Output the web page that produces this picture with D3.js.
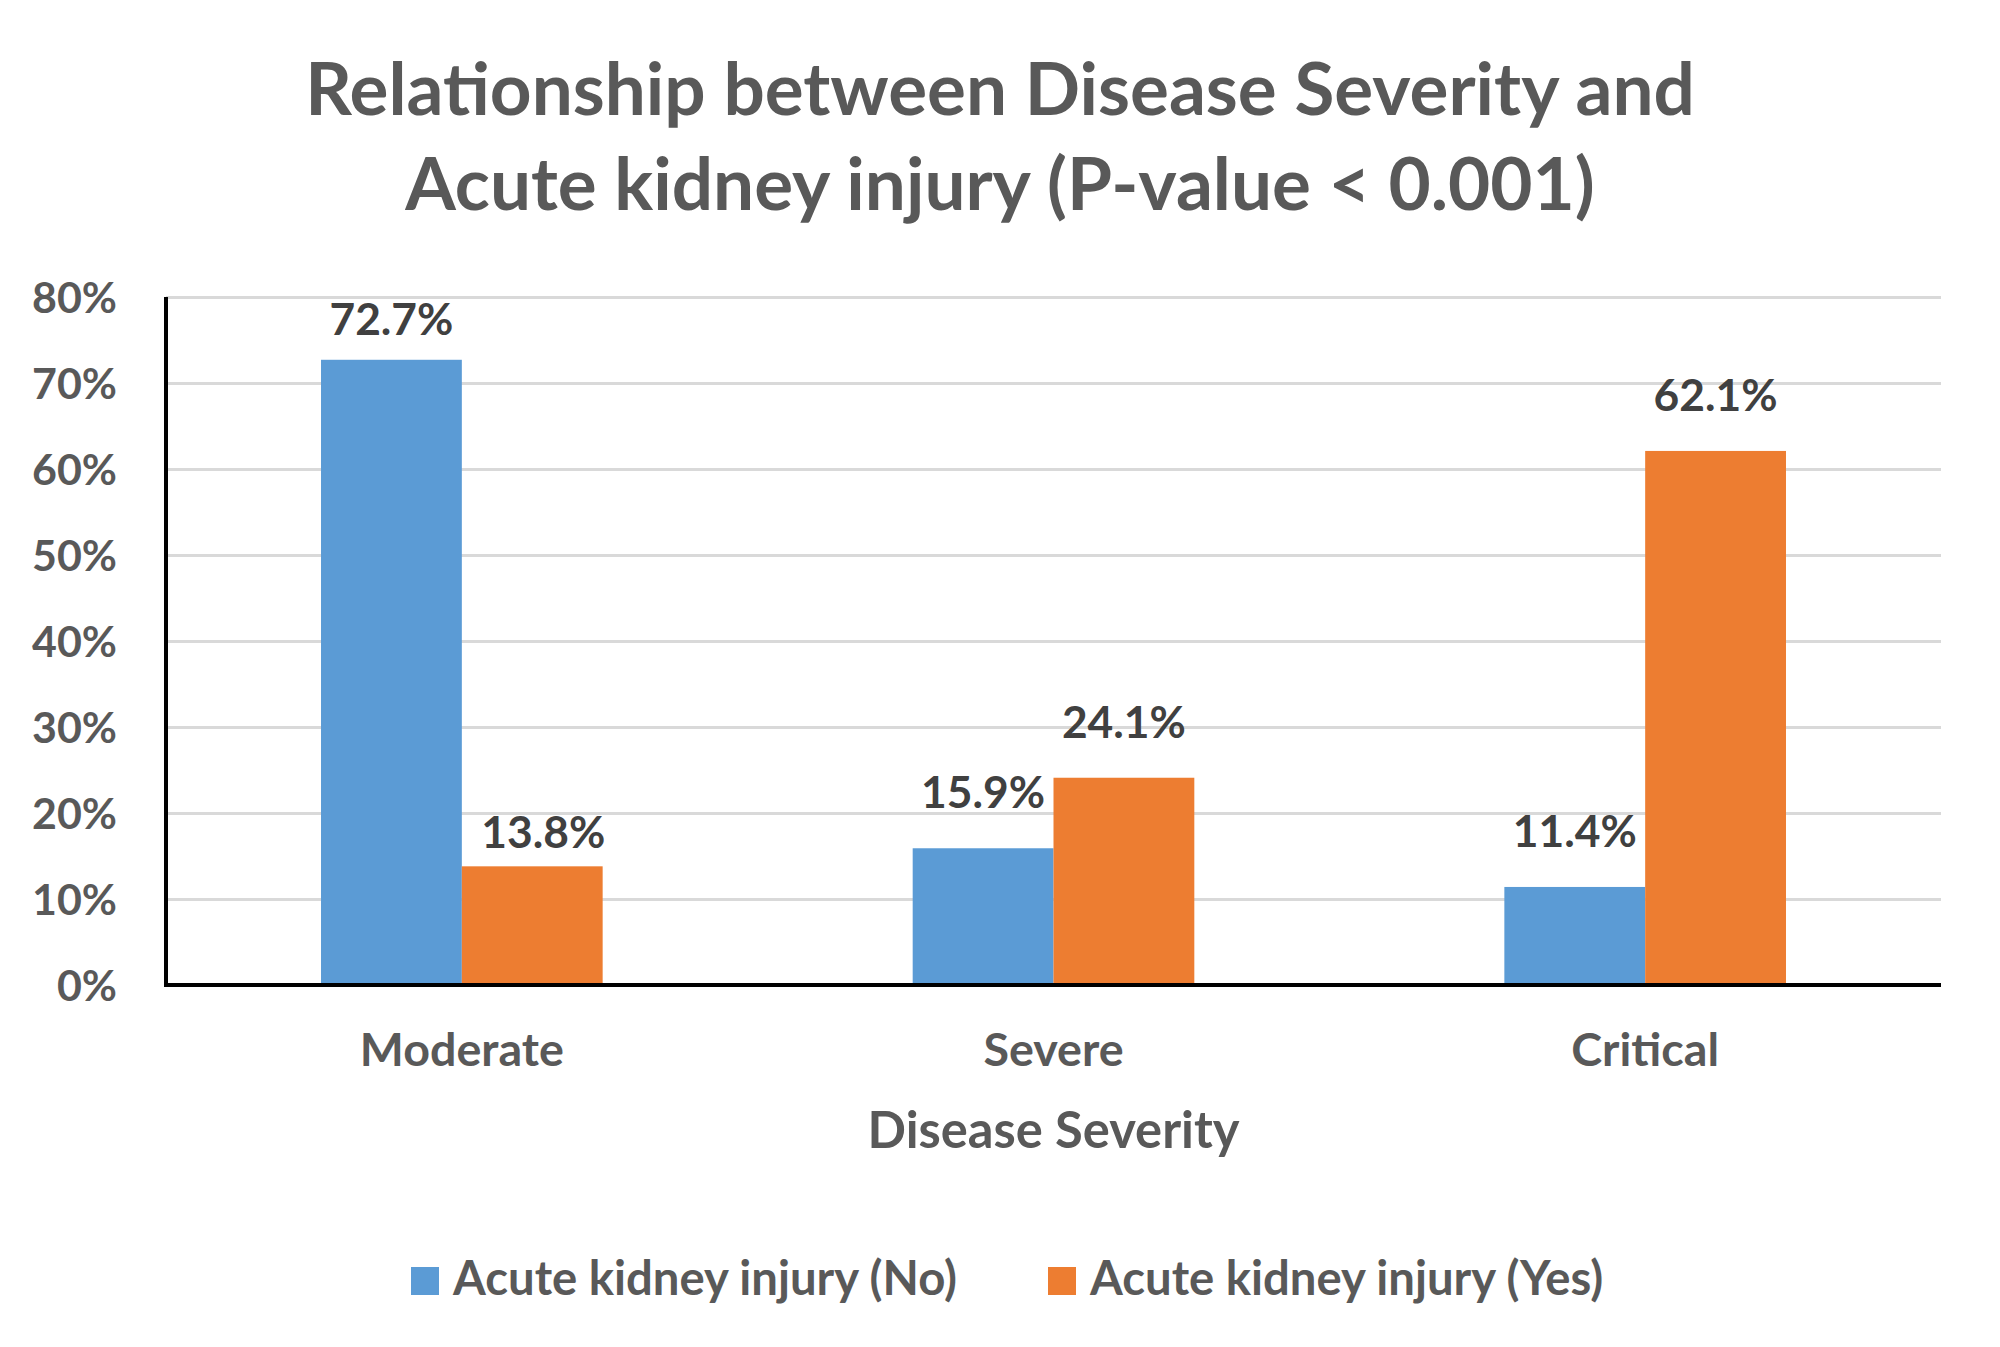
<!DOCTYPE html>
<html><head><meta charset="utf-8">
<script src="https://cdn.jsdelivr.net/npm/d3@7"></script>
<style>body{margin:0;background:#fff}svg text{font-family:Lato,"Open Sans",sans-serif;font-weight:700}</style>
</head><body>
<svg id="c" width="2000" height="1347"></svg>
<script>
const categories = ["Moderate", "Severe", "Critical"];
const seriesNames = ["Acute kidney injury (No)", "Acute kidney injury (Yes)"];
const valuesNo = [72.7, 15.9, 11.4];
const valuesYes = [13.8, 24.1, 62.1];
const yTicks = [0, 10, 20, 30, 40, 50, 60, 70, 80];
const titleLines = ["Relationship between Disease Severity and", "Acute kidney injury (P-value < 0.001)"];
const xTitle = "Disease Severity";
const colors = ["#5B9BD5", "#ED7D31"];

(function () {
const svg = d3.select("#c");
const pL = 166, pR = 1941, pT = 297, pB = 985;
// manual label placement tweaks as in the original (category|series -> [dx, gap])
const labelTweak = { "Moderate|0": [0, 25], "Moderate|1": [11, 18] };
const defaultGap = 40;

function fit(sel, target) {
  const n = sel.node();
  const w = n.getComputedTextLength();
  const fs = parseFloat(sel.attr("font-size"));
  const nf = fs * target / w;
  sel.attr("font-size", nf);
  return nf;
}

const x = d3.scaleBand().domain(categories).range([pL, pR]).paddingInner(0.524).paddingOuter(0.262);
const x1 = d3.scaleBand().domain([0, 1]).range([0, x.bandwidth()]);
const y = d3.scaleLinear().domain([0, 80]).range([pB, pT]);

const grid = svg.append("g").attr("transform", `translate(${pL},0)`)
  .call(d3.axisLeft(y).tickValues(yTicks.slice(1)).tickSize(-(pR - pL)).tickFormat(""));
grid.select(".domain").remove();
grid.selectAll("line").attr("stroke", "#d9d9d9").attr("stroke-width", 3);

const yAx = svg.append("g").attr("transform", `translate(${pL},0)`)
  .call(d3.axisLeft(y).tickValues(yTicks).tickSize(0).tickPadding(49).tickFormat(d => d + "%"));
yAx.select(".domain").remove();
yAx.selectAll("text").attr("font-size", 40).attr("fill", "#595959").attr("dy", "0.36em")
  .style("font-family", "Lato").style("font-weight", 700);
const yfs = fit(yAx.selectAll("text").filter(d => d === 80), 85);
yAx.selectAll("text").attr("font-size", yfs);

const data = categories.map((c, i) => ({ c, v: [valuesNo[i], valuesYes[i]] }));
const groups = svg.append("g").selectAll("g").data(data).join("g")
  .attr("transform", d => `translate(${x(d.c)},0)`);
groups.selectAll("rect").data(d => d.v.map((v, k) => ({ v, k, c: d.c }))).join("rect")
  .attr("x", d => x1(d.k)).attr("width", x1.bandwidth())
  .attr("y", d => y(d.v)).attr("height", d => y(0) - y(d.v))
  .attr("fill", d => colors[d.k]);
const tw = d => labelTweak[d.c + "|" + d.k] || [0, defaultGap];
const lbl = groups.selectAll("text").data(d => d.v.map((v, k) => ({ v, k, c: d.c }))).join("text")
  .attr("x", d => x1(d.k) + x1.bandwidth() / 2 + tw(d)[0]).attr("y", d => y(d.v) - tw(d)[1])
  .attr("text-anchor", "middle").attr("fill", "#404040").attr("font-size", 40)
  .text(d => d.v.toFixed(1) + "%");
const lfs = fit(lbl.filter(d => d.v === 72.7), 124);
lbl.attr("font-size", lfs);

svg.append("line").attr("x1", pL).attr("x2", pL).attr("y1", pT).attr("y2", pB + 1.5)
  .attr("stroke", "#000").attr("stroke-width", 4);
svg.append("line").attr("x1", pL - 2).attr("x2", pR).attr("y1", pB).attr("y2", pB)
  .attr("stroke", "#000").attr("stroke-width", 4);

const xAx = svg.append("g").attr("transform", `translate(0,${pB})`)
  .call(d3.axisBottom(x).tickSize(0).tickPadding(0));
xAx.select(".domain").remove();
xAx.selectAll("text").attr("font-size", 40).attr("fill", "#595959").attr("dy", 0).attr("y", 81)
  .style("font-family", "Lato").style("font-weight", 700);
const xfs = fit(xAx.selectAll("text").filter(d => d === "Moderate"), 204);
xAx.selectAll("text").attr("font-size", xfs);

const xt = svg.append("text").attr("x", (pL + pR) / 2).attr("y", 1148).attr("text-anchor", "middle")
  .attr("fill", "#595959").attr("font-size", 44).text(xTitle);
fit(xt, 372);

const tl = svg.append("g").selectAll("text").data(titleLines).join("text")
  .attr("x", 1000).attr("y", (d, i) => 115 + i * 95).attr("text-anchor", "middle")
  .attr("fill", "#595959").attr("font-size", 70).text(d => d);
const tfs = fit(tl.filter((d, i) => i === 0), 1390);
tl.attr("font-size", tfs);

const legX = [411, 1048];
const leg = svg.append("g").selectAll("g").data(seriesNames).join("g")
  .attr("transform", (d, i) => `translate(${legX[i]},1267)`);
leg.append("rect").attr("width", 28).attr("height", 28).attr("fill", (d, i) => colors[i]);
const lt = leg.append("text").attr("x", 42).attr("y", 28).attr("fill", "#595959").attr("font-size", 40).text(d => d);
const lgfs = fit(lt.filter((d, i) => i === 0), 504);
lt.attr("font-size", lgfs);
})();
</script>
</body></html>
